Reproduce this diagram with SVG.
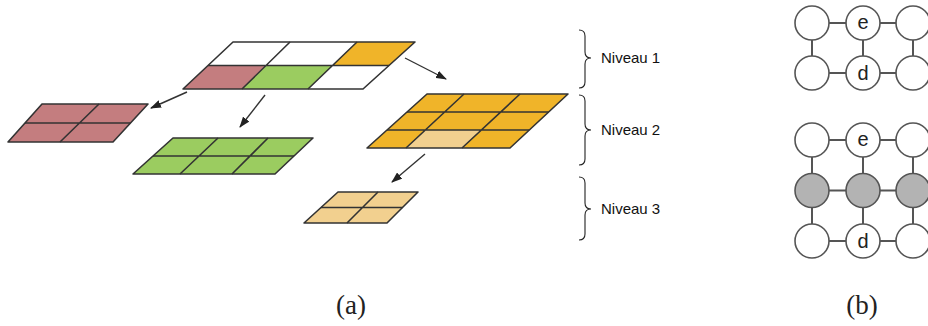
<svg xmlns="http://www.w3.org/2000/svg" width="928" height="326" viewBox="0 0 928 326">
<defs>
<style>
.g{fill:none;stroke:#333;stroke-width:1.6;stroke-linejoin:round}
.w{fill:#fff}
.o{fill:#F0B429}
.r{fill:#C47D7F}
.gr{fill:#9BCC60}
.t{fill:#F2D08F}
.ar{fill:none;stroke:#333;stroke-width:1.4}
.br{fill:none;stroke:#222;stroke-width:1.1}
.lbl{font-family:"Liberation Sans",Arial,sans-serif;font-size:15px;fill:#111}
.cap{font-family:"Liberation Serif","Times New Roman",serif;font-size:27px;fill:#222;text-anchor:middle}
.c{fill:#fff;stroke:#555;stroke-width:1.6}
.cg{fill:#B3B3B3;stroke:#555;stroke-width:1.6}
.ln{stroke:#555;stroke-width:2}
.ct{font-family:"Liberation Sans",Arial,sans-serif;font-size:20px;fill:#222;text-anchor:middle}
</style>
<marker id="ah" viewBox="0 0 11 8" refX="10" refY="4" markerWidth="11" markerHeight="8" markerUnits="userSpaceOnUse" orient="auto">
<path d="M0,0 L11,4 L0,8 z" fill="#222"/>
</marker>
</defs>
<rect width="928" height="326" fill="#fff"/>

<g id="level1">
<polygon class="w" points="233,42 415,42 363,89 183,89"/>
<polygon class="o" points="357,42 415,42 389,65.5 332.5,65.5"/>
<polygon class="r" points="208,65.5 266,65.5 242,89 183,89"/>
<polygon class="gr" points="266,65.5 332.5,65.5 308,89 242,89"/>
<polygon class="g" points="233,42 415,42 363,89 183,89"/>
<path class="g" d="M208,65.5 H389 M290,42 L242,89 M357,42 L308,89"/>
</g>

<g id="level2-red">
<polygon class="r" points="42,104 148,104 113,142 8,142"/>
<polygon class="g" points="42,104 148,104 113,142 8,142"/>
<path class="g" d="M25,123 H130.5 M99,104 L60,142"/>
</g>

<g id="level2-green">
<polygon class="gr" points="173,138 313,138 275,174 133,174"/>
<polygon class="g" points="173,138 313,138 275,174 133,174"/>
<path class="g" d="M153,156 H294 M218,138 L180,174 M268,138 L232,174"/>
</g>

<g id="level2-orange">
<polygon class="o" points="427,94 568,94 510,148 367,148"/>
<polygon class="t" points="425.3,130 481.3,130 462,148 406,148"/>
<polygon class="g" points="427,94 568,94 510,148 367,148"/>
<path class="g" d="M407,112 H548.7 M387,130 H529.3 M464,94 L406,148 M520,94 L462,148"/>
</g>

<g id="level3">
<polygon class="t" points="338,192 418,192 387,223 304,223"/>
<polygon class="g" points="338,192 418,192 387,223 304,223"/>
<path class="g" d="M321,207.5 H402.5 M378,192 L347,223"/>
</g>

<g id="connectors">
<line class="ar" x1="187" y1="92" x2="151" y2="108" marker-end="url(#ah)"/>
<line class="ar" x1="265" y1="95" x2="240" y2="127" marker-end="url(#ah)"/>
<line class="ar" x1="405" y1="58" x2="446" y2="79" marker-end="url(#ah)"/>
<line class="ar" x1="425" y1="154" x2="392" y2="182" marker-end="url(#ah)"/>
</g>

<g id="braces">
<path class="br" d="M579,30 Q585,30 585,36 L585,52 Q585,58 591,58 Q585,58 585,64 L585,82 Q585,88 579,88"/>
<path class="br" d="M579,95 Q585,95 585,101 L585,124 Q585,130 591,130 Q585,130 585,136 L585,159 Q585,165 579,165"/>
<path class="br" d="M579,177 Q585,177 585,183 L585,203 Q585,209 591,209 Q585,209 585,215 L585,234 Q585,240 579,240"/>
<text class="lbl" x="601" y="63">Niveau 1</text>
<text class="lbl" x="601" y="135">Niveau 2</text>
<text class="lbl" x="601" y="214">Niveau 3</text>
</g>

<g id="graph-top">
<path class="ln" d="M812,23 H913 M812,73 H913 M812,23 V73 M863,23 V73 M913,23 V73"/>
<circle class="c" cx="812" cy="23" r="17"/>
<circle class="c" cx="863" cy="23" r="17"/>
<circle class="c" cx="913" cy="23" r="17"/>
<circle class="c" cx="812" cy="73" r="17"/>
<circle class="c" cx="863" cy="73" r="17"/>
<circle class="c" cx="913" cy="73" r="17"/>
<text class="ct" x="863" y="29">e</text>
<text class="ct" x="863" y="80">d</text>
</g>

<g id="graph-bottom">
<path class="ln" d="M812,140 H913 M812,190.5 H913 M812,241 H913 M812,140 V241 M863,140 V241 M913,140 V241"/>
<circle class="c" cx="812" cy="140" r="17"/>
<circle class="c" cx="863" cy="140" r="17"/>
<circle class="c" cx="913" cy="140" r="17"/>
<circle class="cg" cx="812" cy="190.5" r="17"/>
<circle class="cg" cx="863" cy="190.5" r="17"/>
<circle class="cg" cx="913" cy="190.5" r="17"/>
<circle class="c" cx="812" cy="241" r="17"/>
<circle class="c" cx="863" cy="241" r="17"/>
<circle class="c" cx="913" cy="241" r="17"/>
<text class="ct" x="863" y="146">e</text>
<text class="ct" x="863" y="248">d</text>
</g>

<text class="cap" x="351" y="314">(a)</text>
<text class="cap" x="862" y="314">(b)</text>
</svg>
